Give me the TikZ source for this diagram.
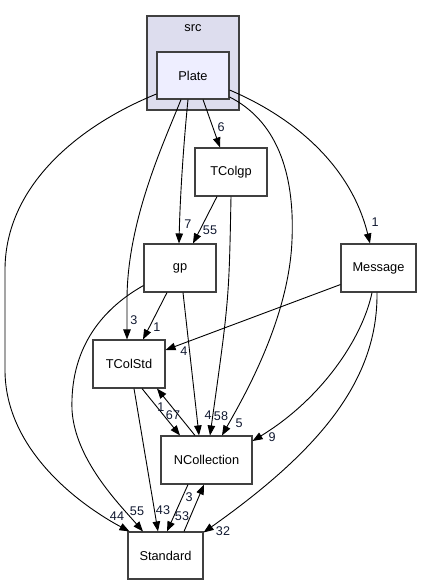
\documentclass[tikz,border=0pt]{standalone}
\usepackage{fontspec}
\setmainfont{Liberation Sans}
\usetikzlibrary{arrows.meta}
\definecolor{clusterfill}{HTML}{DDDDEE}
\definecolor{platefill}{HTML}{EEEEFF}
\definecolor{boxline}{HTML}{404040}
\definecolor{lblcol}{HTML}{101830}
\tikzset{
  dirbox/.style={draw=boxline, line width=1.1pt, fill=white, inner sep=0pt, font=\fontsize{12.8}{14}\selectfont},
  dep/.style={draw=black, line width=0.9pt, -{Triangle[length=10pt,width=7.5pt]}},
  lbl/.style={text=lblcol, font=\fontsize{12.6}{14}\selectfont, inner sep=0pt},
}
\begin{document}
\begin{tikzpicture}[x=1pt,y=-1pt]
\useasboundingbox (0,0) rectangle (421,585);
% cluster
\node[draw=boxline, line width=1.1pt, fill=clusterfill, minimum width=92pt, minimum height=94pt, inner sep=0pt] (src) at (193,63) {};
\node[font=\fontsize{12.8}{14}\selectfont, inner sep=0pt] (srclbl) at (193,28) {src};
% nodes
\node[dirbox, fill=platefill, minimum width=72pt, minimum height=47pt] (plate) at (193,75.5) {Plate};
\node[dirbox, minimum width=72pt, minimum height=48pt] (tcolgp) at (231,172) {TColgp};
\node[dirbox, minimum width=72pt, minimum height=48pt] (gp) at (180,268) {gp};
\node[dirbox, minimum width=75pt, minimum height=48pt] (message) at (378.5,268) {Message};
\node[dirbox, minimum width=72pt, minimum height=48pt] (tcolstd) at (129,364) {TColStd};
\node[dirbox, minimum width=91pt, minimum height=48pt] (ncoll) at (206.5,460) {NCollection};
\node[dirbox, minimum width=75pt, minimum height=47pt] (standard) at (165.5,555.5) {Standard};
% anchor coordinates
\coordinate (pL) at ([yshift=-18.5pt]plate.west);
\coordinate (pB1) at ([xshift=-12pt]plate.south);
\coordinate (pB2) at ([xshift=-5pt]plate.south);
\coordinate (pB3) at ([xshift=10pt]plate.south);
\coordinate (pR1) at ([yshift=-21.5pt]plate.east);
\coordinate (pR2) at ([yshift=-14.5pt]plate.east);
% edges from Plate
\draw[dep] (pL) .. controls (80,125) and (5,185) .. (5,270) -- (5,370) .. controls (5,450) and (80,505) .. ([xshift=-36pt]standard.north);
\draw[dep] (pB1) .. controls (165,140) and (127,220) .. (127,300) -- ([xshift=-2pt]tcolstd.north);
\draw[dep] (pB2) .. controls (183,150) and (180,200) .. ([xshift=-1pt]gp.north);
\draw[dep] (pB3) -- ([xshift=-11pt]tcolgp.north);
\draw[dep] (pR1) .. controls (275,120) and (295,170) .. (292,240) .. controls (289,320) and (242,400) .. ([xshift=15.5pt]ncoll.north);
\draw[dep] (pR2) .. controls (300,120) and (352,170) .. ([xshift=-8.5pt]message.north);
% TColgp
\draw[dep] ([xshift=-14pt]tcolgp.south) -- ([xshift=13pt]gp.north);
\draw[dep] ([xshift=0pt]tcolgp.south) .. controls (229,300) .. ([xshift=3.5pt]ncoll.north);
% gp
\draw[dep] ([xshift=-13pt]gp.south) -- ([xshift=14pt]tcolstd.north);
\draw[dep] ([xshift=3pt]gp.south) -- ([xshift=-7.5pt]ncoll.north);
\draw[dep] ([yshift=7pt]gp.south west) .. controls (100,310) and (70,350) .. (72,410) .. controls (75,460) and (120,505) .. ([xshift=-22.5pt]standard.north);
% Message
\draw[dep] ([yshift=8pt]message.south west) -- ([yshift=14pt]tcolstd.east);
\draw[dep] ([xshift=-6.5pt]message.south) .. controls (362,340) and (320,400) .. ([yshift=19pt]ncoll.east);
\draw[dep] ([xshift=-1.5pt]message.south) .. controls (378,380) and (320,450) .. ([yshift=-1pt]standard.north east);
% TColStd
\draw[dep] ([xshift=13pt]tcolstd.south) -- ([xshift=-26.5pt]ncoll.north);
\draw[dep] ([xshift=5pt]tcolstd.south) -- ([xshift=-7.5pt]standard.north);
% NCollection
\draw[dep] ([xshift=-11.5pt]ncoll.north) -- ([xshift=28pt]tcolstd.south);
\draw[dep] ([xshift=-18.5pt]ncoll.south) -- ([xshift=1.5pt]standard.north);
% Standard
\draw[dep] ([xshift=18.5pt]standard.north) -- ([xshift=-2.5pt]ncoll.south);
% labels
\node[lbl] (l44) at (117,516) {44};
\node[lbl] (l3a) at (134,320) {3};
\node[lbl] (l7) at (188,224) {7};
\node[lbl] (l6) at (221,127) {6};
\node[lbl] (l5) at (239,423) {5};
\node[lbl] (l1a) at (375,222) {1};
\node[lbl] (l55a) at (210,230) {55};
\node[lbl] (l58) at (221,416) {58};
\node[lbl] (l1b) at (157,327) {1};
\node[lbl] (l4a) at (208,415) {4};
\node[lbl] (l55b) at (137,511) {55};
\node[lbl] (l4b) at (184,351) {4};
\node[lbl] (l9) at (272,437) {9};
\node[lbl] (l32) at (223,531) {32};
\node[lbl] (l67) at (173,415) {67};
\node[lbl] (l1c) at (161,407) {1};
\node[lbl] (l43) at (163,510) {43};
\node[lbl] (l53) at (182,516) {53};
\node[lbl] (l3b) at (189,497) {3};
\end{tikzpicture}
\end{document}
